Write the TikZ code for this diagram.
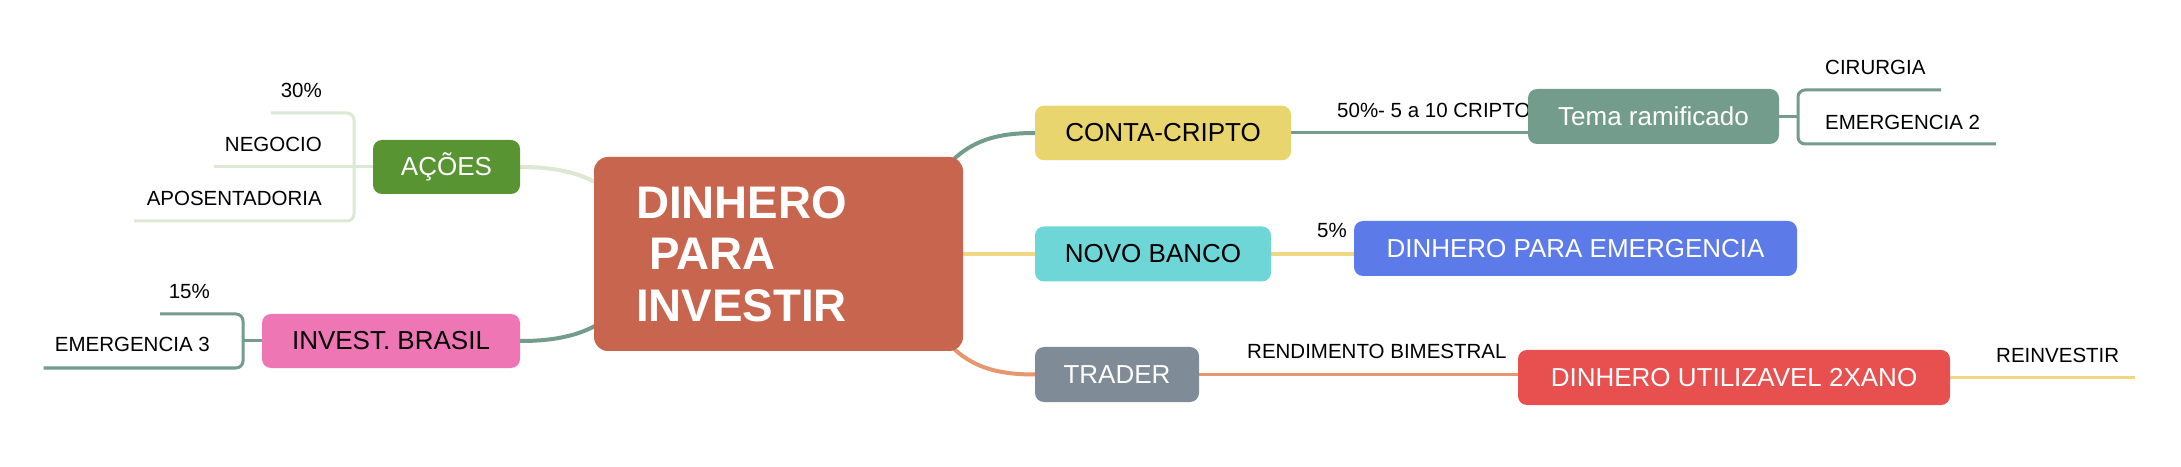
\documentclass[tikz,border=0pt]{standalone}
\usepackage{fontspec}
\setmainfont{Liberation Sans}
\pgfdeclarelayer{bottom}
\pgfdeclarelayer{background}
\pgfsetlayers{bottom,background,main}
\definecolor{cCenter}{HTML}{C8654E}
\definecolor{cConta}{HTML}{E8D56E}
\definecolor{cNovo}{HTML}{6FD6D8}
\definecolor{cTrader}{HTML}{808B98}
\definecolor{cAcoes}{HTML}{589432}
\definecolor{cInvest}{HTML}{EE76B4}
\definecolor{cTema}{HTML}{739C8C}
\definecolor{cDpe}{HTML}{5C7BE8}
\definecolor{cDuv}{HTML}{E85050}
\definecolor{lTeal}{HTML}{739C8C}
\definecolor{lPale}{HTML}{DCE8D4}
\definecolor{lYellow}{HTML}{F0D882}
\definecolor{lOrange}{HTML}{E8966E}
\newcommand\boxfont{\fontsize{26}{30}\selectfont}
\newcommand\lblfont{\fontsize{20.5}{24}\selectfont}
\newcommand\ctrfont{\fontsize{45.7}{51.7}\selectfont\bfseries}
\tikzset{
  box/.style={rounded corners=9pt, inner sep=0pt, font=\boxfont, minimum height=55pt},
  lbl/.style={font=\lblfont, inner sep=0pt, text=black},
  conn/.style={line width=4pt},
  sub/.style={line width=3pt, rounded corners=7pt},
}
\begin{document}
\begin{tikzpicture}[x=1pt,y=1pt]
\useasboundingbox (0,0) rectangle (2181,466);
\begin{pgfonlayer}{bottom}
\fill[white] (0,0) rectangle (2181,466);
\end{pgfonlayer}

% main nodes
\node[box, fill=cCenter, minimum width=369pt, minimum height=194pt, rounded corners=14pt,
      text width=285pt, inner xsep=42pt, align=left, text=white, font=\ctrfont]
      (center) at (778.5,212) {DINHERO\\\hspace*{13pt}PARA\\INVESTIR};
\node[box, fill=cConta, minimum width=256pt, minimum height=54.5pt, text=black] (conta) at (1163,333) {CONTA-CRIPTO};
\node[box, fill=cNovo, minimum width=236pt, text=black] (novo) at (1153,212) {NOVO BANCO};
\node[box, fill=cTrader, minimum width=164pt, text=white] (trader) at (1117,91.5) {TRADER};
\node[box, fill=cAcoes, minimum width=147pt, minimum height=54pt, text=white] (acoes) at (446.5,299) {AÇÕES};
\node[box, fill=cInvest, minimum width=258pt, minimum height=54pt, text=black] (invest) at (391,125) {INVEST. BRASIL};

% label hidden partly by the Tema node
\node[lbl, anchor=base west] (t50) at (1337,348) {50\%- 5 a 10 CRIPTO};
\node[box, fill=cTema, minimum width=251pt, text=white] (tema) at (1653.5,349.5) {Tema ramificado};
\node[box, fill=cDpe, minimum width=443pt, text=white] (dpe) at (1575.5,217.5) {DINHERO PARA EMERGENCIA};
\node[box, fill=cDuv, minimum width=432pt, text=white] (duv) at (1734,88.5) {DINHERO UTILIZAVEL 2XANO};

% leaf labels
\node[lbl, anchor=base east] (t30) at (322,368) {30\%};
\node[lbl, anchor=base east] (tneg) at (322,314) {NEGOCIO};
\node[lbl, anchor=base east] (tapo) at (322,260) {APOSENTADORIA};
\node[lbl, anchor=base east] (t15) at (210,167) {15\%};
\node[lbl, anchor=base east] (tem3) at (210,114) {EMERGENCIA 3};
\node[lbl, anchor=base west] (tcir) at (1825,391) {CIRURGIA};
\node[lbl, anchor=base west] (tem2) at (1825,336) {EMERGENCIA 2};
\node[lbl, anchor=base west] (t5) at (1317,228) {5\%};
\node[lbl, anchor=base west] (trend) at (1247,107) {RENDIMENTO BIMESTRAL};
\node[lbl, anchor=base west] (trei) at (1996,103) {REINVESTIR};

% free ends of branches
\coordinate (temaBr) at (1798,349.5);
\coordinate (cirE) at (1941,376);
\coordinate (em2E) at (1996,322);
\coordinate (acBr) at (354,299);
\coordinate (p30E) at (271,353);
\coordinate (negE) at (213.5,299);
\coordinate (apoE) at (134,245);
\coordinate (ivBr) at (243,125);
\coordinate (p15E) at (160,152);
\coordinate (em3E) at (43.5,98);
\coordinate (reiE) at (2135,88.5);

\begin{pgfonlayer}{background}
% from centre
\draw[conn, lTeal] ([shift={(-38,-39)}]center.north east) .. controls +(30,50) and +(-50,0) .. (conta.west);
\draw[conn, lOrange] ([shift={(-38,39)}]center.south east) .. controls +(30,-50) and +(-50,0) .. (trader.west);
\draw[conn, lYellow] (center.east) -- (novo.west);
\draw[conn, lPale] ([shift={(46,-69)}]center.north west) .. controls +(-30,50) and +(45,0) .. (acoes.east);
\draw[conn, lTeal] ([shift={(46,69)}]center.south west) .. controls +(-30,-50) and +(45,0) .. (invest.east);
% second level
\draw[sub, lTeal] (conta.east) -- (conta.east -| tema.west);
\draw[line width=3.5pt, lYellow] (novo.east) -- (novo.east -| dpe.west);
\draw[sub, lOrange] (trader.east) -- (trader.east -| duv.west);
\draw[sub, lYellow] (duv.east) -- (reiE);
% brackets
\draw[sub, lTeal] (tema.east) -- (temaBr);
\draw[sub, lTeal] (cirE) -- (cirE -| temaBr) -- (em2E -| temaBr) -- (em2E);
\draw[sub, lPale] (acoes.west) -- (negE);
\draw[sub, lPale] (p30E) -- (p30E -| acBr) -- (apoE -| acBr) -- (apoE);
\draw[sub, lTeal] (invest.west) -- (ivBr);
\draw[sub, lTeal] (p15E) -- (p15E -| ivBr) -- (em3E -| ivBr) -- (em3E);
\end{pgfonlayer}
\end{tikzpicture}
\end{document}
